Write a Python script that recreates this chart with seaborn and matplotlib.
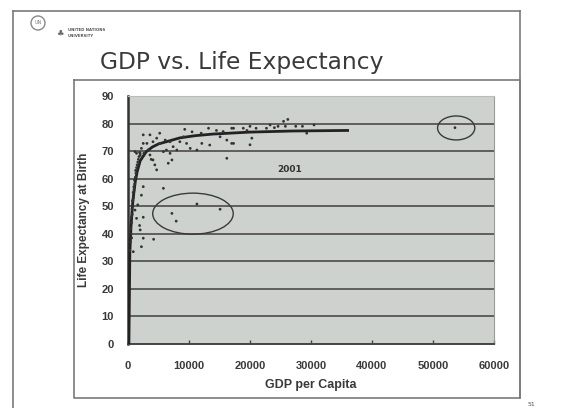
import numpy as np
import pandas as pd
import matplotlib
matplotlib.use("Agg")
import matplotlib.pyplot as plt
from matplotlib.patches import Ellipse, Circle
import seaborn as sns

# ---------------- data ----------------
gdp = [300, 400, 500, 450, 600, 550, 700, 650, 800, 750, 900, 850, 1000, 950, 1100, 1050,
       1200, 1300, 1250, 1400, 1500, 1600, 1700, 1800, 2000, 1900,
       2500, 2200, 800, 1150, 1400, 2500, 2000, 2500, 4200, 2200, 870, 5800, 11300, 15100,
       7200, 7900, 600, 1600, 1900,
       3600, 5200, 9300, 13200, 17000, 15600, 15100, 16200, 17000, 16200, 13400, 12100,
       11300, 9100, 8500, 7400, 6900, 7200, 6600, 5800, 5200, 4700, 4100, 3100, 2500,
       2000, 2600, 3600, 4100, 4400, 4700, 3800, 2200, 3300, 6300, 8000, 10200, 9600,
       6100, 6900, 2500, 1150, 1400,
       17300, 18900, 20000, 21000, 22700, 24600, 25500, 25800, 26200, 27500, 28600,
       30500, 24000, 23300, 19500, 29300, 20300, 20000, 17300, 10500, 12000, 14500,
       53600]
life = [34, 37, 40, 42, 44, 46, 47, 49, 50, 52, 53, 55, 56, 57, 58, 59.5,
        60.5, 62, 63, 64, 65, 66, 67, 68, 68.5, 69.5,
        57.1, 54, 52, 48.6, 45.6, 46, 41.4, 38.4, 38, 35.3, 33.5, 56.5, 50.8, 48.9,
        47.4, 44.6, 38.5, 50.5, 43,
        75.9, 76.5, 77.9, 78.3, 78.3, 77.1, 75.2, 74, 72.8, 67.4, 72.2, 72.8,
        70.4, 75.2, 73.4, 71.6, 69.2, 66.8, 65.6, 69.8, 72.8, 74.7, 73.4, 72.8, 72.8,
        69.2, 69.2, 68.6, 66.8, 65, 63.2, 67, 71, 70.4, 70.4, 70.4, 71, 72.8,
        74, 73.4, 75.9, 69.8, 69.2,
        78.3, 78.3, 79, 78.3, 78.3, 79, 80.8, 79, 81.5, 79, 79,
        79.5, 78.5, 79.5, 77.5, 76.5, 74.7, 72.3, 72.8, 77, 76.5, 77.5,
        78.5]

# trend line
fit_gdp = [150, 300, 500, 800, 1200, 1500, 2000, 3000, 4000, 5000, 8500, 11000,
           14000, 20000, 27000, 36000]
fit_life = [0, 33, 43, 52, 59, 62.5, 66.5, 69.8, 71.5, 72.6, 74.8, 75.6,
            76.2, 76.9, 77.3, 77.5]

x_ticks = [0, 10000, 20000, 30000, 40000, 50000, 60000]
y_ticks = [0, 10, 20, 30, 40, 50, 60, 70, 80, 90]

title = "GDP vs. Life Expectancy"
x_label = "GDP per Capita"
y_label = "Life Expectancy at Birth"
year_note = "2001"

# ---------------- figure ----------------
W, H = 566, 408
fig = plt.figure(figsize=(W / 100, H / 100), dpi=100)
fig.patch.set_facecolor("white")

# background decoration axes in pixel coordinates
bg = fig.add_axes([0, 0, 1, 1])
bg.set_xlim(0, W)
bg.set_ylim(H, 0)
bg.axis("off")
frame_c = "#7a7a7a"
# slide frame
bg.plot([13, 13], [11, 408], color=frame_c, lw=1.2)
bg.plot([13, 520], [11, 11], color=frame_c, lw=1.2)
bg.plot([520, 520], [11, 398], color=frame_c, lw=1.2)
# chart box
bg.plot([74, 520, 520, 74, 74], [80, 80, 398, 398, 80], color=frame_c, lw=1.2)
# logo
bg.add_patch(Circle((38, 23), 7, fill=False, ec="#888888", lw=1))
bg.text(38, 23, "UN", fontsize=3.5, ha="center", va="center", color="#777777")
bg.text(60, 33, "♣", fontsize=6, ha="center", va="center", color="#666666",
        family=["DejaVu Sans"])
bg.text(68, 30, "UNITED NATIONS", fontsize=2.8, ha="left", va="center", color="#555555",
        weight="bold")
bg.text(68, 36, "UNIVERSITY", fontsize=2.8, ha="left", va="center", color="#555555",
        weight="bold")
bg.text(242, 62, title, fontsize=16.8, ha="center", va="center", color="#3a3a3a",
        family="DejaVu Sans")
bg.text(528, 404, "51", fontsize=4.5, ha="left", va="center", color="#555555")

# main axes
ax = fig.add_axes([128 / W, 1 - 344 / H, (494 - 128) / W, (344 - 96) / H])
ax.set_facecolor("#cdd2cf")

sns.lineplot(x=fit_gdp, y=fit_life, ax=ax, color="#222222", lw=2.0, zorder=3,
             estimator=None, sort=False)
sns.scatterplot(x=gdp, y=life, ax=ax, marker="o", s=4, color="#333333",
                edgecolor="none", zorder=4)

ax.add_patch(Ellipse((10650, 47.3), 13200, 14.9, fill=False, ec="#3a3a3a", lw=1.0, zorder=5))
ax.add_patch(Ellipse((53800, 78.4), 6100, 8.7, fill=False, ec="#3a3a3a", lw=1.0, zorder=5))
ax.text(26500, 63.5, year_note, fontsize=6.5, ha="center", va="center", color="#333333",
        weight="bold")

ax.set_xlim(0, 60000)
ax.set_ylim(0, 90)
ax.set_xticks(x_ticks)
ax.set_yticks(y_ticks)
ax.set_xticklabels([str(t) for t in x_ticks])
ax.set_yticklabels([str(t) for t in y_ticks])
for y in y_ticks[1:-1]:
    ax.axhline(y, color="#555555", lw=1.3, zorder=1)

for lab in ax.get_xticklabels() + ax.get_yticklabels():
    lab.set_fontsize(8)
    lab.set_fontweight("bold")
    lab.set_color("#3a3a3a")
    lab.set_family("Liberation Sans")
ax.tick_params(axis="x", direction="in", length=3, width=1, color="#444444", pad=12)
ax.tick_params(axis="y", direction="out", length=0, pad=10)

ax.set_xlabel(x_label, fontsize=9, fontweight="bold", color="#3a3a3a",
              family="Liberation Sans", labelpad=6)
ax.set_ylabel(y_label, fontsize=8.5, fontweight="bold", color="#3a3a3a",
              family="Liberation Sans", labelpad=8)

ax.spines["left"].set_color("#333333")
ax.spines["left"].set_linewidth(1.8)
ax.spines["bottom"].set_color("#444444")
ax.spines["bottom"].set_linewidth(1.4)
ax.spines["top"].set_color("#bbbbbb")
ax.spines["right"].set_color("#999999")
ax.spines["top"].set_linewidth(0.8)
ax.spines["right"].set_linewidth(0.8)

fig.savefig("out.png", dpi=100)
